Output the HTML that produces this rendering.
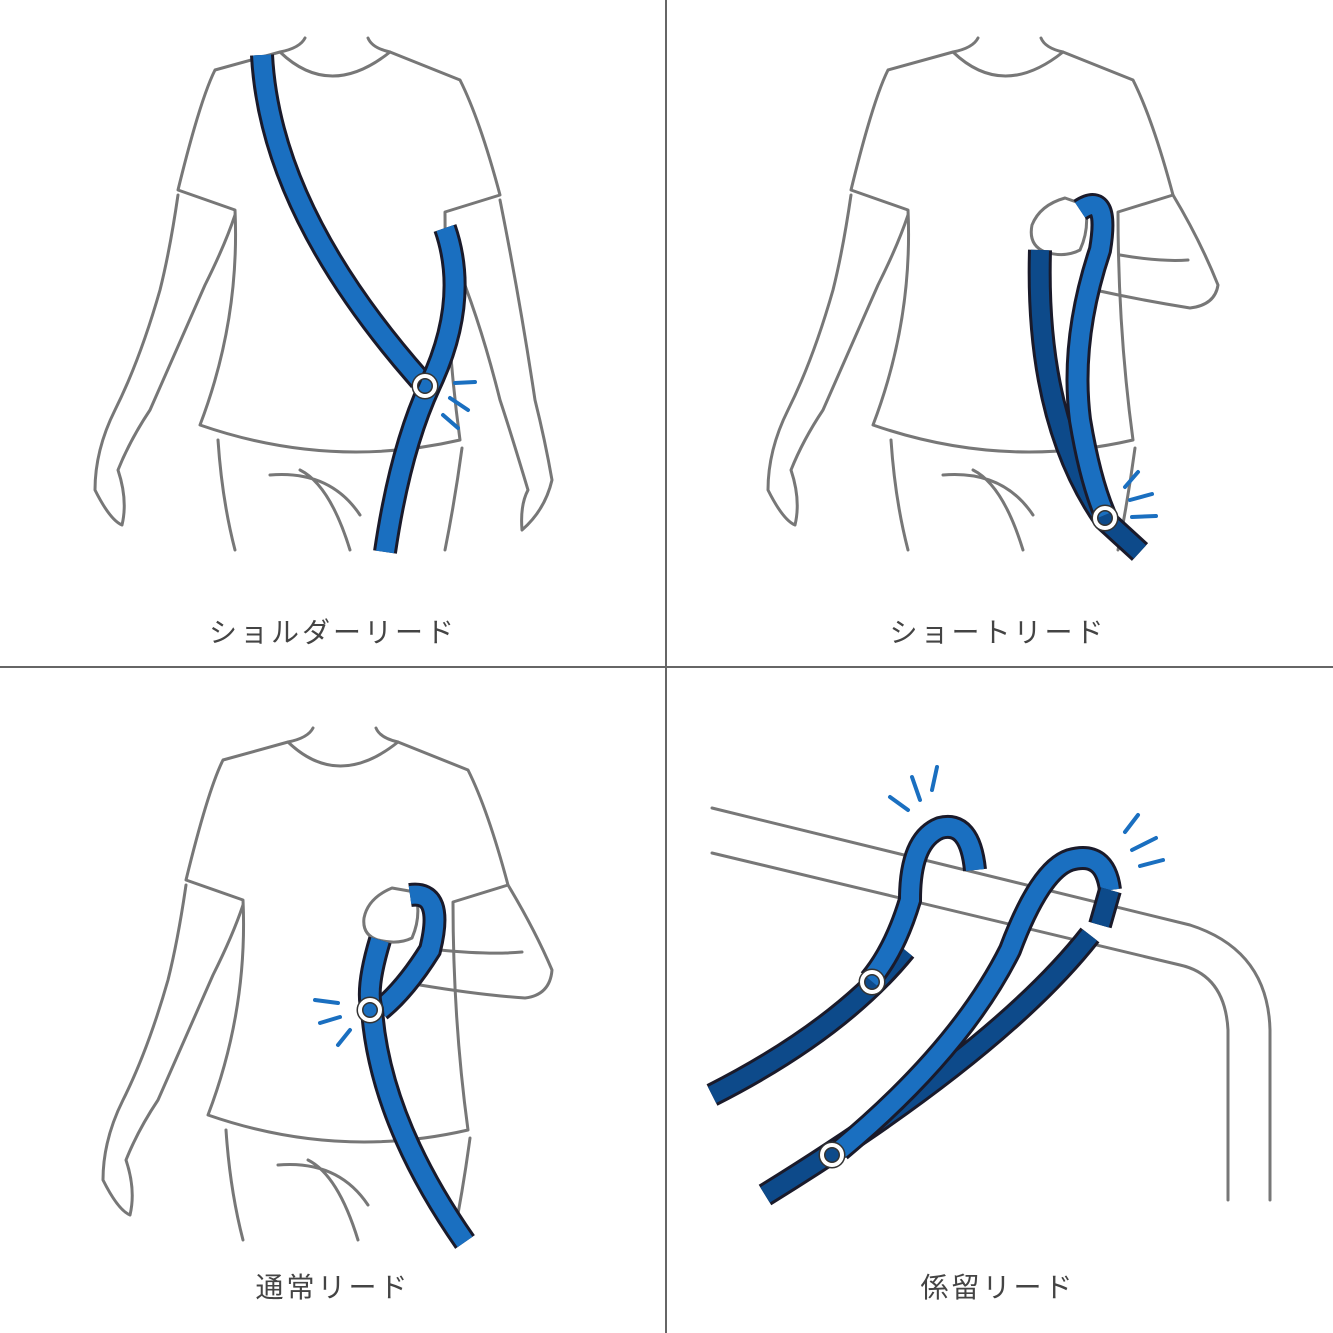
<!DOCTYPE html>
<html><head><meta charset="utf-8"><style>
html,body{margin:0;padding:0;background:#fff}
svg{display:block}
.o{fill:none;stroke:#777;stroke-width:3;stroke-linecap:round;stroke-linejoin:round}
.lo{fill:none;stroke:#1a1a2a;stroke-width:24;stroke-linecap:butt}
.lb{fill:none;stroke:#1a6fc0;stroke-width:18;stroke-linecap:butt}
.ld{fill:none;stroke:#0d4a8a;stroke-width:18;stroke-linecap:butt}
.sp{fill:none;stroke:#1a6fc0;stroke-width:4;stroke-linecap:round}
.hk{fill:none;stroke:#333;stroke-width:7}
.hk2{fill:none;stroke:#fff;stroke-width:4}
text{font-family:"Liberation Sans","Noto Sans CJK JP",sans-serif;font-size:28px;fill:#444;letter-spacing:3px}
</style></head><body>
<svg width="1333" height="1333" viewBox="0 0 1333 1333">
<defs>
<g id="body">
<path class="o" d="M305,38 Q300,48 280,52 Q330,100 390,52 Q372,48 368,38"/>
<path class="o" d="M280,52 L215,70 Q200,100 178,190 L235,210 Q240,320 200,425 Q330,470 460,440 Q445,330 445,212 L500,195 Q480,120 460,80 L390,52"/>
<path class="o" d="M178,195 Q170,250 160,290 Q140,360 115,410 Q95,450 95,490 Q110,520 122,525 Q128,500 118,470 Q130,440 150,410 Q185,330 205,285 Q225,245 235,215"/>
<path class="o" d="M218,440 Q222,500 235,550 M462,448 Q455,500 445,550 M270,475 Q330,470 360,515 M300,470 Q330,485 350,550"/>
</g>
<path id="rarm" class="o" d="M500,200 Q520,300 535,400 Q545,440 552,480 Q545,510 522,530 Q520,505 528,490 Q510,430 500,400 Q480,320 455,260"/>
</defs>
<rect width="1333" height="1333" fill="#fff"/>
<line x1="666" y1="0" x2="666" y2="1333" stroke="#666" stroke-width="2"/>
<line x1="0" y1="667" x2="1333" y2="667" stroke="#666" stroke-width="2"/>

<!-- fig1 -->
<use href="#body"/><use href="#rarm"/>
<path class="lo" d="M262,55 Q270,210 420,380"/><path class="lb" d="M262,55 Q270,210 420,380"/>
<path class="lo" d="M445,228 Q470,300 430,385 Q400,450 385,552"/><path class="lb" d="M445,228 Q470,300 430,385 Q400,450 385,552"/>
<circle class="hk" cx="425" cy="386" r="10"/><circle class="hk2" cx="425" cy="386" r="10"/>
<path class="sp" d="M455,383 L475,382 M450,398 L468,410 M443,415 L458,428"/>

<!-- fig2 -->
<use href="#body" transform="translate(673,0)"/>
<path class="o" d="M1173,195 Q1200,240 1218,285 Q1215,305 1190,308 Q1140,300 1095,290 M1120,255 Q1160,262 1188,260"/>
<path class="o" d="M1065,198 Q1040,205 1032,225 Q1028,245 1045,252 Q1065,258 1080,250 Q1090,228 1085,205 Z"/>
<path class="lo" d="M1040,250 Q1035,420 1105,520 L1140,552"/><path class="ld" d="M1040,250 Q1035,420 1105,520 L1140,552"/>
<path class="lo" d="M1080,210 Q1110,190 1100,250 Q1070,340 1080,420 Q1090,480 1105,515"/><path class="lb" d="M1080,210 Q1110,190 1100,250 Q1070,340 1080,420 Q1090,480 1105,515"/>
<circle class="hk" cx="1105" cy="518" r="10"/><circle class="hk2" cx="1105" cy="518" r="10"/>
<path class="sp" d="M1125,487 L1138,472 M1130,500 L1152,494 M1132,517 L1156,516"/>

<!-- fig3 -->
<use href="#body" transform="translate(8,690)"/>
<path class="o" d="M508,885 Q535,930 552,970 Q550,995 525,998 Q480,995 420,985 M440,950 Q490,955 522,952"/>
<path class="o" d="M392,888 Q368,898 364,918 Q362,935 378,940 Q398,945 412,938 Q422,915 415,892 Z"/>
<path class="lo" d="M410,895 Q445,890 430,950 Q405,990 380,1010"/><path class="lb" d="M410,895 Q445,890 430,950 Q405,990 380,1010"/>
<path class="lo" d="M380,940 Q365,990 372,1010 Q380,1120 465,1242"/><path class="lb" d="M380,940 Q365,990 372,1010 Q380,1120 465,1242"/>
<circle class="hk" cx="370" cy="1010" r="10"/><circle class="hk2" cx="370" cy="1010" r="10"/>
<path class="sp" d="M315,1000 L338,1003 M320,1023 L340,1017 M338,1045 L350,1030"/>

<!-- fig4 -->
<path d="M712,808 L1190,925 Q1268,950 1270,1030 L1270,1200 L1228,1200 L1228,1030 Q1225,975 1180,965 L712,853 Z" fill="#fff" stroke="none"/>
<path class="o" d="M712,808 L1190,925 Q1268,950 1270,1030 L1270,1200"/>
<path class="o" d="M712,853 L1180,965 Q1225,975 1228,1030 L1228,1200"/>
<path class="lo" d="M712,1095 Q840,1030 905,950"/><path class="ld" d="M712,1095 Q840,1030 905,950"/>
<path class="lo" d="M975,870 Q970,820 940,828 Q910,840 910,900 Q895,950 870,980"/><path class="lb" d="M975,870 Q970,820 940,828 Q910,840 910,900 Q895,950 870,980"/>
<path class="lo" d="M1090,935 Q1000,1050 765,1195"/><path class="ld" d="M1090,935 Q1000,1050 765,1195"/>
<path class="lo" d="M1110,890 Q1105,850 1070,860 Q1040,870 1010,950 Q960,1050 840,1150"/><path class="lb" d="M1110,890 Q1105,850 1070,860 Q1040,870 1010,950 Q960,1050 840,1150"/>
<path class="lo" d="M1110,890 L1100,925"/><path class="ld" d="M1110,890 L1100,925"/>
<circle class="hk" cx="872" cy="982" r="10"/><circle class="hk2" cx="872" cy="982" r="10"/>
<circle class="hk" cx="832" cy="1155" r="10"/><circle class="hk2" cx="832" cy="1155" r="10"/>
<path class="sp" d="M890,797 L908,810 M912,777 L920,800 M937,767 L932,790 M1125,832 L1138,815 M1132,850 L1156,838 M1140,866 L1163,860"/>

<text x="333" y="642" text-anchor="middle">ショルダーリード</text>
<text x="998" y="642" text-anchor="middle">ショートリード</text>
<text x="333" y="1297" text-anchor="middle">通常リード</text>
<text x="998" y="1297" text-anchor="middle">係留リード</text>
</svg>
</body></html>
